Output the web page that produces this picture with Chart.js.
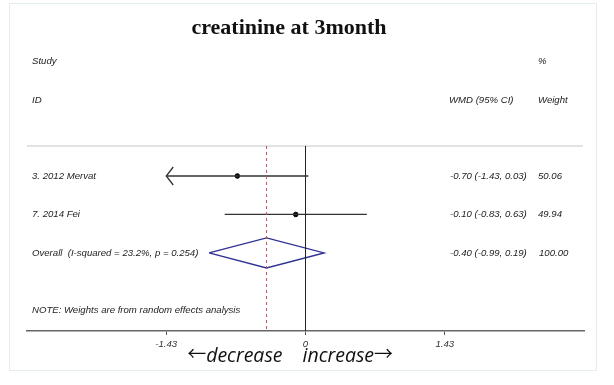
<!DOCTYPE html>
<html>
<head>
<meta charset="utf-8">
<script src="https://cdn.jsdelivr.net/npm/chart.js@4/dist/chart.umd.min.js"></script>
<style>
  html, body { margin: 0; padding: 0; background: #fff; }
  canvas { display: block; }
</style>
</head>
<body>
<canvas id="forest" width="614" height="385"></canvas>
<script>
// data
const studies = ['3. 2012 Mervat', '7. 2014 Fei'];
const wmd = [-0.70, -0.10];
const ciLow = [-1.43, -0.83];
const ciHigh = [0.03, 0.63];
const weights = [50.06, 49.94];

const overallLabel = 'Overall  (I-squared = 23.2%, p = 0.254)';
const overallWmd = -0.40;
const overallLow = -0.99;
const overallHigh = 0.19;
const overallWeight = 100.00;

const xTicks = [-1.43, 0, 1.43];
const title = 'creatinine at 3month';
const note = 'NOTE: Weights are from random effects analysis';

// rows on the y scale (0 = "Study", 1 = "ID", studies from 3)
const studyRows = studies.map((s, i) => 3 + i);
const overallRow = 3 + studies.length;
const noteRow = overallRow + 1.5;
const yMin = 2.22, yMax = 7.03;
const xMin = -2 * xTicks[2], xMax = 2 * xTicks[2];

const fmt = v => v.toFixed(2);
const textFont = 'italic 9.6px "Liberation Sans", Arial, sans-serif';

const datasets = [];
// line of no effect
datasets.push({
    data: [{x: 0, y: yMin}, {x: 0, y: yMax}],
    borderColor: '#222', borderWidth: 1, showLine: true, pointRadius: 0
});
// overall estimate, dashed
datasets.push({
    data: [{x: overallWmd, y: yMin}, {x: overallWmd, y: yMax}],
    borderColor: '#c8505a', borderWidth: 1, borderDash: [3, 3], showLine: true, pointRadius: 0
});
// confidence intervals
studies.forEach((s, i) => {
    datasets.push({
        data: [{x: Math.max(ciLow[i], xTicks[0]), y: studyRows[i]}, {x: Math.min(ciHigh[i], xTicks[2]), y: studyRows[i]}],
        borderColor: '#333', borderWidth: 1.3, showLine: true, pointRadius: 0
    });
});
// point estimates
datasets.push({
    data: wmd.map((v, i) => ({x: v, y: studyRows[i]})),
    backgroundColor: '#000', borderColor: '#000', pointRadius: 2.3, showLine: false
});
// overall diamond
const dh = 0.39;
datasets.push({
    data: [
        {x: overallLow, y: overallRow},
        {x: overallWmd, y: overallRow - dh},
        {x: overallHigh, y: overallRow},
        {x: overallWmd, y: overallRow + dh},
        {x: overallLow, y: overallRow}
    ],
    borderColor: '#2e3192', borderWidth: 1.4, showLine: true, pointRadius: 0, tension: 0
});

const forestText = {
    id: 'forestText',
    beforeDraw(chart) {
        const c = chart.ctx;
        c.save();
        c.fillStyle = '#fff';
        c.fillRect(0, 0, chart.width, chart.height);
        c.strokeStyle = '#e3eded';
        c.lineWidth = 1;
        c.strokeRect(9.5, 3.5, 587, 367);
        c.restore();
    },
    beforeDatasetsDraw(chart) {
        const c = chart.ctx, a = chart.chartArea;
        c.save();
        c.strokeStyle = '#d9d9d9';
        c.lineWidth = 1.5;
        c.beginPath();
        c.moveTo(a.left, a.top);
        c.lineTo(a.right - 1, a.top);
        c.stroke();
        c.restore();
    },
    afterDraw(chart) {
        const c = chart.ctx, x = chart.scales.x, y = chart.scales.y;
        c.save();
        // arrows for clipped intervals
        c.strokeStyle = '#333';
        c.lineWidth = 1.3;
        studies.forEach((s, i) => {
            if (ciLow[i] <= xTicks[0]) {
                const px = x.getPixelForValue(xTicks[0]), py = y.getPixelForValue(studyRows[i]);
                c.beginPath();
                c.moveTo(px + 7, py - 9);
                c.lineTo(px, py);
                c.lineTo(px + 7, py + 9);
                c.stroke();
            }
        });

        // title
        c.fillStyle = '#111';
        c.font = 'bold 22px "Liberation Serif", "Times New Roman", serif';
        c.textAlign = 'center';
        c.textBaseline = 'middle';
        c.fillText(title, 289, 28);

        // columns
        c.font = textFont;
        c.fillStyle = '#222';
        c.textAlign = 'left';
        const colL = 32, colE = 450, colW = 538;
        const r0 = y.getPixelForValue(0) + 1, r1 = y.getPixelForValue(1) + 1;
        c.fillText('Study', colL, r0);
        c.fillText('%', colW, r0);
        c.fillText('ID', colL, r1);
        c.fillText('WMD (95% CI)', colE - 1, r1);
        c.fillText('Weight', colW, r1);
        studies.forEach((s, i) => {
            const py = y.getPixelForValue(studyRows[i]);
            c.fillText(s, colL, py);
            c.fillText(fmt(wmd[i]) + ' (' + fmt(ciLow[i]) + ', ' + fmt(ciHigh[i]) + ')', colE, py);
            c.fillText(fmt(weights[i]), colW, py);
        });
        const po = y.getPixelForValue(overallRow);
        c.fillText(overallLabel, colL, po);
        c.fillText(fmt(overallWmd) + ' (' + fmt(overallLow) + ', ' + fmt(overallHigh) + ')', colE, po);
        c.fillText(fmt(overallWeight), colW + 1, po);
        c.fillText(note, colL, y.getPixelForValue(noteRow));

        // direction labels under the axis
        const x0 = x.getPixelForValue(0);
        const base = 362;
        c.fillStyle = '#111';
        c.textBaseline = 'alphabetic';
        c.font = 'italic 19.5px "Open Sans", "Noto Sans", sans-serif';
        c.textAlign = 'right';
        c.fillText('decrease', x0 - 23, base);
        c.textAlign = 'left';
        c.fillText('increase', x0 - 3, base);
        const wDec = c.measureText('decrease').width;
        const wInc = c.measureText('increase').width;
        c.font = '19px "Noto Sans CJK SC", "DejaVu Sans", sans-serif';
        c.textAlign = 'right';
        c.fillText('\u2190', x0 - 23 - wDec, base - 1);
        c.textAlign = 'left';
        c.fillText('\u2192', x0 - 3 + wInc, base - 1);
        c.restore();
    }
};

new Chart(document.getElementById('forest').getContext('2d'), {
    type: 'scatter',
    data: { datasets: datasets },
    options: {
        responsive: false,
        animation: false,
        layout: { padding: { top: 146, left: 27, right: 30, bottom: 0 } },
        plugins: { legend: { display: false }, tooltip: { enabled: false }, title: { display: false } },
        scales: {
            x: {
                type: 'linear',
                min: xMin,
                max: xMax,
                afterBuildTicks: s => { s.ticks = xTicks.map(v => ({value: v})); },
                afterFit: s => { s.height = 54; },
                grid: { drawOnChartArea: false, drawTicks: true, tickLength: 4, color: '#555', lineWidth: 1 },
                border: { display: true, color: '#666', width: 1.6 },
                ticks: {
                    padding: 4,
                    color: '#333',
                    font: { family: '"Liberation Sans", Arial, sans-serif', size: 9.6, style: 'italic' },
                    callback: v => String(v)
                }
            },
            y: {
                type: 'linear',
                display: false,
                reverse: true,
                min: yMin,
                max: yMax
            }
        }
    },
    plugins: [forestText]
});
</script>
</body>
</html>
